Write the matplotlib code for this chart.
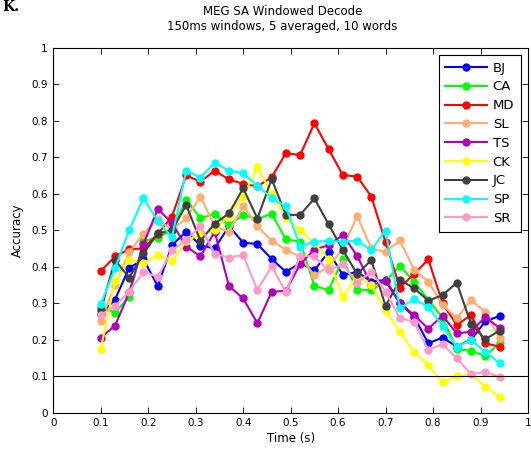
import matplotlib
matplotlib.use("Agg")
import matplotlib.pyplot as plt

plt.rcParams['font.family'] = ['DejaVu Sans']

times = [0.10, 0.13, 0.16, 0.19, 0.22, 0.25, 0.28, 0.31, 0.34, 0.37,
         0.40, 0.43, 0.46, 0.49, 0.52, 0.55, 0.58, 0.61, 0.64, 0.67,
         0.70, 0.73, 0.76, 0.79, 0.82, 0.85, 0.88, 0.91, 0.94]

BJ = [0.27, 0.31, 0.397, 0.42, 0.347, 0.459, 0.496, 0.458, 0.45, 0.511,
      0.466, 0.462, 0.421, 0.386, 0.41, 0.39, 0.441, 0.377, 0.386, 0.359,
      0.364, 0.30, 0.263, 0.19, 0.206, 0.181, 0.20, 0.25, 0.265]
CA = [0.29, 0.274, 0.318, 0.47, 0.48, 0.50, 0.583, 0.533, 0.545, 0.514,
      0.542, 0.53, 0.545, 0.475, 0.469, 0.347, 0.336, 0.42, 0.336, 0.336,
      0.36, 0.403, 0.359, 0.309, 0.26, 0.174, 0.17, 0.155, 0.19]
MD = [0.388, 0.428, 0.448, 0.45, 0.49, 0.537, 0.65, 0.633, 0.663, 0.639,
      0.627, 0.62, 0.645, 0.711, 0.706, 0.793, 0.722, 0.651, 0.647, 0.592,
      0.467, 0.343, 0.38, 0.42, 0.30, 0.24, 0.268, 0.19, 0.181]
SL = [0.252, 0.35, 0.44, 0.49, 0.53, 0.50, 0.533, 0.592, 0.51, 0.496,
      0.566, 0.511, 0.471, 0.446, 0.427, 0.376, 0.40, 0.45, 0.539, 0.45,
      0.44, 0.472, 0.392, 0.359, 0.295, 0.259, 0.309, 0.276, 0.204]
TS = [0.206, 0.238, 0.33, 0.462, 0.558, 0.52, 0.455, 0.428, 0.496, 0.347,
      0.313, 0.245, 0.331, 0.334, 0.407, 0.447, 0.459, 0.487, 0.43, 0.35,
      0.36, 0.30, 0.268, 0.23, 0.266, 0.217, 0.222, 0.262, 0.232]
CK = [0.175, 0.36, 0.418, 0.409, 0.433, 0.415, 0.47, 0.49, 0.50, 0.54,
      0.592, 0.672, 0.60, 0.533, 0.50, 0.464, 0.42, 0.318, 0.375, 0.35,
      0.28, 0.222, 0.165, 0.131, 0.083, 0.101, 0.106, 0.071, 0.043]
JC = [0.281, 0.418, 0.37, 0.437, 0.491, 0.50, 0.569, 0.471, 0.518, 0.546,
      0.615, 0.532, 0.64, 0.542, 0.542, 0.587, 0.516, 0.446, 0.38, 0.418,
      0.292, 0.364, 0.341, 0.307, 0.322, 0.356, 0.243, 0.201, 0.225]
SP = [0.297, 0.396, 0.50, 0.588, 0.525, 0.481, 0.663, 0.644, 0.685, 0.663,
      0.656, 0.622, 0.589, 0.565, 0.455, 0.469, 0.47, 0.469, 0.471, 0.446,
      0.498, 0.286, 0.311, 0.29, 0.237, 0.18, 0.199, 0.167, 0.136]
SR = [0.268, 0.292, 0.332, 0.386, 0.372, 0.445, 0.473, 0.511, 0.435, 0.425,
      0.432, 0.336, 0.401, 0.33, 0.43, 0.428, 0.39, 0.407, 0.356, 0.386,
      0.332, 0.259, 0.249, 0.172, 0.188, 0.149, 0.105, 0.112, 0.098]

names = ['BJ', 'CA', 'MD', 'SL', 'TS', 'CK', 'JC', 'SP', 'SR']
series = [BJ, CA, MD, SL, TS, CK, JC, SP, SR]
colors = ['#0000ff', '#00ff00', '#ff0000', '#ffad70', '#b000b8',
          '#ffff00', '#404040', '#00ffff', '#ff99c8']

chance = 0.1
xticks = [0, 0.1, 0.2, 0.3, 0.4, 0.5, 0.6, 0.7, 0.8, 0.9, 1]
yticks = [0, 0.1, 0.2, 0.3, 0.4, 0.5, 0.6, 0.7, 0.8, 0.9, 1]

fig = plt.figure(figsize=(5.31, 4.49), dpi=100)
ax = fig.add_axes([53.3 / 531, (449 - 412.7) / 449, 474.7 / 531, 365 / 449])

for name, ys, c in zip(names, series, colors):
    ax.plot(times, ys, '-o', color=c, lw=1.5, ms=5, mec=c, mfc=c, label=name)

ax.axhline(chance, color='black', lw=0.8)

ax.set_xlim(0, 1)
ax.set_ylim(0, 1)
ax.set_xticks(xticks)
ax.set_yticks(yticks)
ax.set_xticklabels([f"{v:g}" for v in xticks])
ax.set_yticklabels([f"{v:g}" for v in yticks])
ax.tick_params(direction='in', top=True, right=True, labelsize=7.5, length=4,
               width=0.6, pad=4)
for s in ax.spines.values():
    s.set_linewidth(0.8)

ax.set_xlabel('Time (s)', fontsize=8.5, labelpad=3)
ax.set_ylabel('Accuracy', fontsize=8.5, labelpad=5)
ax.set_title('MEG SA Windowed Decode\n150ms windows, 5 averaged, 10 words',
             fontsize=8.5, linespacing=1.15, pad=13, x=0.483)

leg = ax.legend(loc='upper right', fontsize=9.5, frameon=True, fancybox=False,
                edgecolor='black', framealpha=1, handlelength=3.2,
                borderaxespad=0.55, labelspacing=0.44, handletextpad=0.4,
                borderpad=0.5)
leg.get_frame().set_linewidth(0.8)

fig.text(0.004, 0.999, 'K.', fontsize=10, fontweight='bold', family='serif',
         va='top', ha='left')

fig.savefig('out.png', dpi=100)
